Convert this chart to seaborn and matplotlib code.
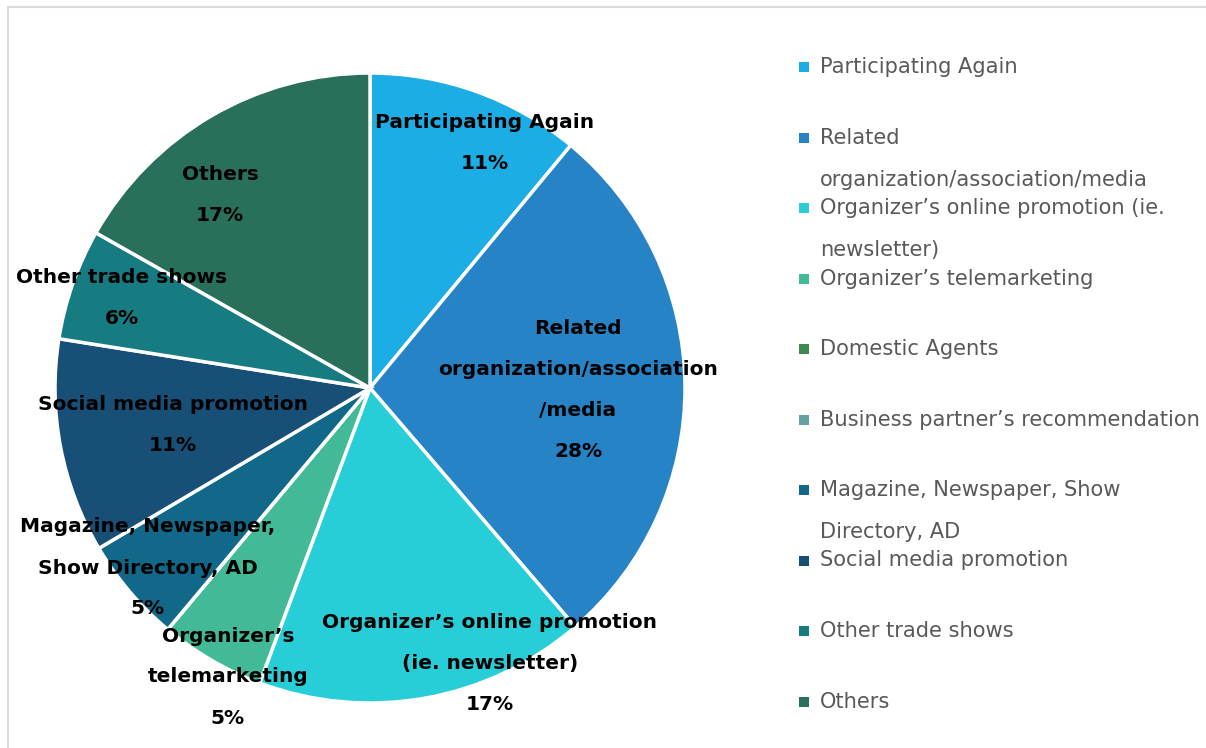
import matplotlib.pyplot as plt
from matplotlib.patches import Rectangle
import seaborn as sns

# Chart data (share of respondents, %)
categories = [
    "Participating Again",
    "Related organization/association/media",
    "Organizer’s online promotion (ie. newsletter)",
    "Organizer’s telemarketing",
    "Domestic Agents",
    "Business partner’s recommendation",
    "Magazine, Newspaper, Show Directory, AD",
    "Social media promotion",
    "Other trade shows",
    "Others",
]
shares = [11.0, 27.7, 17.0, 5.4, 0.0, 0.0, 5.4, 11.0, 5.7, 16.8]

# wrapped names as they appear inside the pie (None = no label)
slice_names = [
    "Participating Again",
    "Related\norganization/association\n/media",
    "Organizer’s online promotion\n(ie. newsletter)",
    "Organizer’s\ntelemarketing",
    None,
    None,
    "Magazine, Newspaper,\nShow Directory, AD",
    "Social media promotion",
    "Other trade shows",
    "Others",
]
# wrapped names as they appear in the legend
legend_names = [
    "Participating Again",
    "Related\norganization/association/media",
    "Organizer’s online promotion (ie.\nnewsletter)",
    "Organizer’s telemarketing",
    "Domestic Agents",
    "Business partner’s recommendation",
    "Magazine, Newspaper, Show\nDirectory, AD",
    "Social media promotion",
    "Other trade shows",
    "Others",
]
colors = ["#1CADE4", "#2683C6", "#27CED7", "#42BA97", "#3E8853",
          "#62A39F", "#116889", "#174F77", "#177C81", "#28705B"]

# label block centres, pixel coords (x, y from top)
label_pos = [(485, 143), (578, 390), (490, 664), (228, 677), None, None,
             (148, 568), (173, 425), (122, 298), (220, 195)]

sns.set_theme(style="white")
plt.rcParams["font.family"] = ["DejaVu Sans"]

W, H = 1206, 748
fig = plt.figure(figsize=(W / 100, H / 100), dpi=100)
ax = fig.add_axes([0, 0, 1, 1])

cx, cy, r = 370, H - 388, 315
ax.pie(shares, colors=colors, startangle=90, counterclock=False,
       center=(cx, cy), radius=r, frame=True,
       wedgeprops=dict(edgecolor="white", linewidth=2.5))

# labels inside / around the slices
line_gap = 41
for name, val, pos in zip(slice_names, shares, label_pos):
    if name is None:
        continue
    lines = name.split("\n") + [f"{round(val)}%"]
    px, py = pos
    top = py - line_gap * (len(lines) - 1) / 2
    for j, line in enumerate(lines):
        ax.text(px, H - (top + j * line_gap), line, ha="center", va="center",
                fontsize=14.5, fontweight="bold", color="black")

# legend drawn by hand to keep Excel-like slots
slot = 70.5
for i, (name, col) in enumerate(zip(legend_names, colors)):
    y = H - (67 + slot * i)
    ax.add_patch(Rectangle((799, y - 5), 10, 10, color=col, lw=0))
    for j, line in enumerate(name.split("\n")):
        ax.text(820, y - 42 * j, line, ha="left", va="center",
                fontsize=15.1, color="#595959", clip_on=False)

# chart frame
ax.add_patch(Rectangle((8, -20), W + 20, H - 7 + 20, fill=False,
                       edgecolor="#D9D9D9", lw=1.5, clip_on=False))

ax.set_xlim(0, W)
ax.set_ylim(0, H)
ax.set_aspect("equal")
ax.axis("off")

fig.savefig("out.png", dpi=100, facecolor="white")
